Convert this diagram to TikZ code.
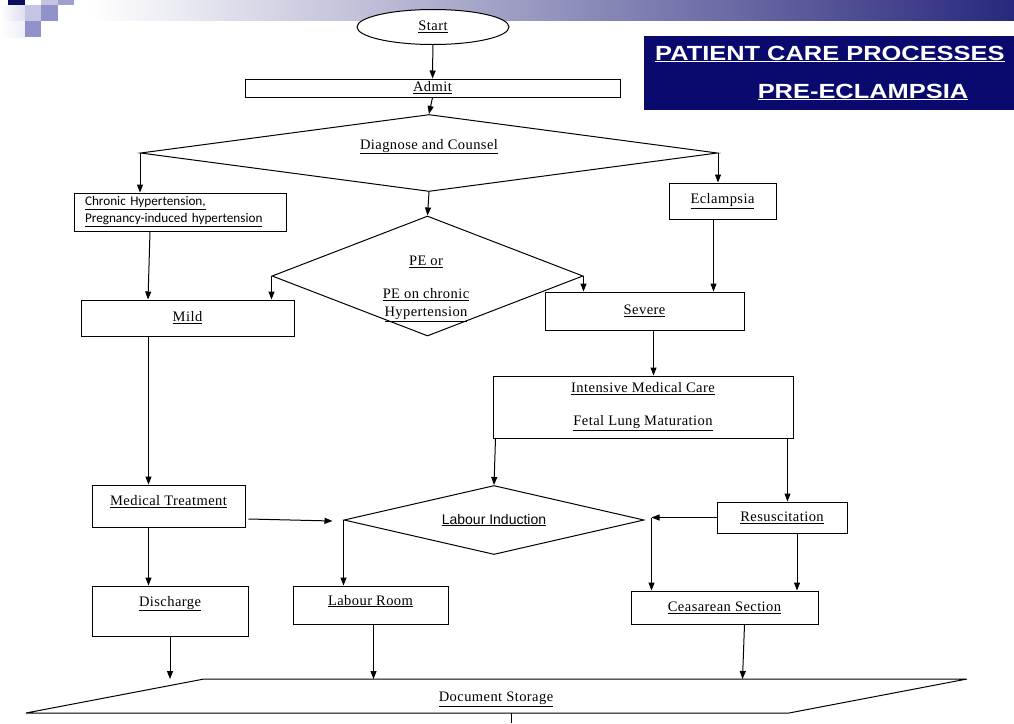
\documentclass[tikz,border=0pt]{standalone}
\usepackage{fontspec}
\setmainfont{Liberation Serif}[LetterSpace=3]
\newfontfamily\inductfont{Liberation Sans}
\newfontfamily\chronicfont{Carlito}
\newfontfamily\titlefont{Liberation Sans}[FakeStretch=1.24]
\usetikzlibrary{arrows.meta,shapes.geometric}
\definecolor{bandblue}{RGB}{40,40,125}
\definecolor{bandmid}{RGB}{178,178,200}
\definecolor{titlenavy}{RGB}{10,10,110}
\definecolor{logonavy}{RGB}{12,12,100}
\definecolor{logolight}{RGB}{196,196,228}
\definecolor{logomid}{RGB}{160,160,208}
\definecolor{logodark}{RGB}{146,146,202}
\definecolor{logopale}{RGB}{222,222,240}
\newcommand{\boxfont}{\fontsize{14.5}{18}\selectfont}
\newcommand{\lab}[1]{\underline{#1}}
\tikzset{
	box/.style={draw, line width=1pt, inner sep=1pt, font=\boxfont},
	decide/.style={draw, diamond, line width=1pt, inner sep=0pt, font=\boxfont},
	arr/.style={line width=1pt, -{Triangle[length=8pt,width=6pt]}}
}

\begin{document}
\begin{tikzpicture}[x=1pt, y=-1pt]
			%%%%% START %%%%%
			\useasboundingbox (0,0) rectangle (1014,723);
			
			\shade[left color=white, middle color=bandmid, right color=bandblue] (90,0) rectangle (1014,20);
			
			\fill[logonavy] (8,-12) rectangle (25,5);
			\fill[logolight] (41,-12) rectangle (58,5);
			\fill[logomid] (58,-12) rectangle (74,5);
			\shade[left color=white, right color=logopale] (0,5) rectangle (25,21);
			\fill[logolight] (25,5) rectangle (41,21);
			\fill[logodark] (41,5) rectangle (58,21);
			\shade[left color=white, right color=logopale!50] (0,21) rectangle (25,37);
			\fill[logodark] (25,21) rectangle (41,37);
			
			\node[fill=titlenavy, anchor=north west, inner sep=0pt, minimum width=380pt, minimum height=74pt] (titlebox) at (644,36) {};
			\node[text=white, anchor=west, inner sep=0pt, font=\titlefont\bfseries\fontsize{20.5}{24}\selectfont] (titletop) at (655,54) {\lab{PATIENT CARE PROCESSES}};
			\node[text=white, inner sep=0pt, font=\titlefont\bfseries\fontsize{20.5}{24}\selectfont] (titlebottom) at (863,92) {\lab{PRE-ECLAMPSIA}};
			
			\node[ellipse, draw, line width=1pt, fill=white, inner sep=0pt, minimum width=152pt, minimum height=35pt, font=\boxfont] (start) at (433,27) {\lab{Start}};
			\node[box, minimum width=375pt, minimum height=18pt] (admit) at (432.5,88) {\lab{Admit}};
			\node[decide, shape aspect=7.5, minimum width=577pt, minimum height=77pt, text depth=18pt] (diag) at (429,153) {\lab{Diagnose and Counsel}};
			
			\node[box, font=\chronicfont\fontsize{13.2}{17}\selectfont, align=left, text width=190pt, inner xsep=11pt, minimum width=212pt, minimum height=38pt] (chronic) at (180,212) {\lab{Chronic Hypertension,}\\\lab{Pregnancy-induced hypertension}};
			\node[box, minimum width=107pt, minimum height=36pt] (eclampsia) at (722.5,201) {\lab{Eclampsia}};
			\node[decide, shape aspect=2.6, minimum width=311pt, minimum height=120pt] (pe) at (427.5,276) {};
			\node[font=\boxfont, align=center, inner sep=0pt] (petext) at (426,289) {\lab{PE or}\\[15pt]\lab{PE on chronic}\\\lab{Hypertension}};
			
			\node[box, minimum width=213pt, minimum height=36pt] (mild) at (187.5,318) {\lab{Mild}};
			\node[box, minimum width=199pt, minimum height=38pt] (severe) at (644.5,311) {\lab{Severe}};
			\node[box, align=center, minimum width=300pt, minimum height=62pt] (intensive) at (643,407) {\lab{Intensive Medical Care}\\[15pt]\lab{Fetal Lung Maturation}};
			
			\node[box, minimum width=153pt, minimum height=42pt, text depth=11pt] (medtreat) at (168.5,506) {\lab{Medical Treatment}};
			\node[decide, shape aspect=4.3, minimum width=300pt, minimum height=69pt, font=\inductfont\fontsize{14}{17}\selectfont] (induct) at (494,520) {\lab{Labour Induction}};
			\node[box, minimum width=130pt, minimum height=31pt] (resus) at (782,517.5) {\lab{Resuscitation}};
			
			\node[box, minimum width=156pt, minimum height=50pt, text depth=20pt] (discharge) at (170,611) {\lab{Discharge}};
			\node[box, minimum width=155pt, minimum height=38pt, text depth=10pt] (labroom) at (370.5,605) {\lab{Labour Room}};
			\node[box, minimum width=187pt, minimum height=33pt] (caes) at (724.5,607.5) {\lab{Ceasarean Section}};
			
			\coordinate (store-nw) at (204,679);
			\coordinate (store-ne) at (967,679);
			\coordinate (store-se) at (789,713);
			\coordinate (store-sw) at (26,713);
			\coordinate (store-exit) at (511,723);
			\draw[line width=1pt] (store-nw) -- (store-ne) -- (store-se) -- (store-sw) -- cycle;
			\node[font=\boxfont, inner sep=0pt] (storage) at (496,699) {\lab{Document Storage}};
			
			\coordinate (split) at ([xshift=7pt]resus.west -| induct.east);
			
			\draw[arr] (start) -- (admit);
			\draw[arr] (admit.south) -- (diag.north);
			\draw[arr] (diag.west) -- (diag.west |- chronic.north);
			\draw[arr] (diag.east) -- (diag.east |- eclampsia.north);
			\draw[arr] (diag.south) -- (pe.north);
			\draw[arr] ([xshift=-30pt]chronic.south) -- ([xshift=-39.5pt]mild.north);
			\draw[arr] (pe.west) -- (pe.west |- mild.north);
			\draw[arr] (pe.east) -- (pe.east |- severe.north);
			\draw[arr] ([xshift=-9pt]eclampsia.south) -- ([xshift=-9pt]eclampsia.south |- severe.north);
			\draw[arr] ([xshift=9pt]severe.south) -- ([xshift=9pt]severe.south |- intensive.north);
			\draw[arr] ([xshift=3pt]intensive.south west) -- (induct.north);
			\draw[arr] ([xshift=-6pt]intensive.south east) -- ([xshift=-6pt]intensive.south east |- resus.north);
			\draw[arr] ([xshift=-20pt]medtreat.north |- mild.south) -- ([xshift=-20pt]medtreat.north);
			\draw[arr] ([xshift=3pt,yshift=-13pt]medtreat.east) -- ([xshift=-11pt,yshift=-1pt]induct.west);
			\draw[arr] ([xshift=-20pt]medtreat.south) -- ([xshift=-20pt]medtreat.south |- discharge.north);
			\draw[arr] (induct.west) -- (induct.west |- labroom.north);
			\draw[arr] (resus.west) -- (split);
			\draw[arr] (split) -- (split |- caes.north);
			\draw[arr] ([xshift=15pt]resus.south) -- ([xshift=15pt]resus.south |- caes.north);
			
			\draw[arr] (discharge.south) -- (discharge.south |- store-nw);
			\draw[arr] ([xshift=3pt]labroom.south) -- ([xshift=3pt]labroom.south |- store-nw);
			\draw[arr] ([xshift=20pt]caes.south) -- ([xshift=18pt]caes.south |- store-nw);
			\draw[line width=1pt] (store-exit |- store-sw) -- (store-exit);
			
			%%%%% END %%%%%
		\end{tikzpicture}
\end{document}
